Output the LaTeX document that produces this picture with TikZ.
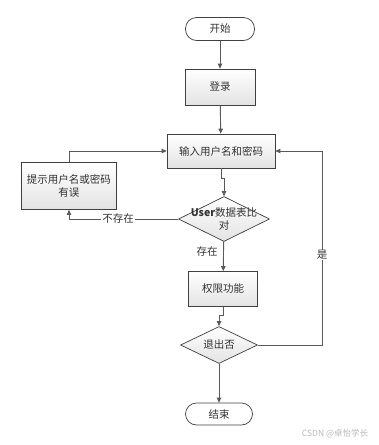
\documentclass[tikz,border=0pt]{standalone}
\usepackage{fontspec}
\usepackage{xcolor}
\usepackage{tikz}
\usetikzlibrary{arrows.meta, positioning, shapes.geometric}
\newfontfamily\cjk{Noto Sans CJK SC}
\definecolor{lineg}{HTML}{5A5A5A}
\definecolor{edgeg}{HTML}{404040}

\begin{document}
\begin{tikzpicture}[
    x=1pt, y=-1pt,
    >={Triangle[length=5pt,width=4.5pt]},
    every node/.style={font=\cjk\fontsize{10.5}{13}\selectfont, text=black!80},
    term/.style={draw=edgeg, line width=0.7pt, rectangle, rounded corners=11pt,
                 fill=white, inner sep=0pt},
    proc/.style={draw=edgeg, line width=0.7pt, rectangle, inner sep=2pt,
                 top color=white, bottom color=gray!22, align=center},
    choice/.style={draw=edgeg, line width=0.7pt, diamond, inner sep=0pt,
                   top color=white, bottom color=gray!22},
    arr/.style={->, draw=lineg, line width=0.9pt},
    lbl/.style={fill=white, inner sep=1pt},
]
    \useasboundingbox (0,0) rectangle (378,445);

    % Main column
    \node[term, minimum width=69pt, minimum height=23pt] (start) at (220,29)  {开始};
    \node[proc, minimum width=70pt, minimum height=36pt] (login) at (220,87)  {登录};
    \node[proc, minimum width=108pt, minimum height=34pt] (input) at (221,151) {输入用户名和密码};
    \node[choice, minimum width=91pt, minimum height=45pt,
          label={[align=center, font=\cjk\fontsize{10.5}{13}\selectfont]center:{\bfseries User}数据表比\\对}]
          (check) at (224,219) {};
    \node[proc, minimum width=69pt, minimum height=35pt] (perm)  at (223,289) {权限功能};
    \node[choice, minimum width=77pt, minimum height=37pt,
          label=center:退出否] (quit) at (219,345) {};
    \node[term, minimum width=67pt, minimum height=22pt] (stop)  at (219,414) {结束};

    % Error box (left)
    \node[proc, minimum width=95pt, minimum height=47pt] (err) at (69,186) {提示用户名或密码\\有误};

    % Connectors
    \draw[arr] (start) -- (login);
    \draw[arr] (login) -- (input);
    \draw[arr] (input.south) -- ++(0,10) -| (check.north);
    \draw[arr] (check.west) -| (err.south);
    \draw[arr] (err.north) |- (input.west);
    \draw[arr] (check) -- (perm);
    \draw[arr] (perm.south) -- ++(0,9) -| (quit.north);
    \draw[arr] (quit) -- (stop);
    \coordinate (back) at (322,345);
    \draw[arr] (quit.east) -- (back) |- (input.east);

    % Labels
    \node[lbl] (no)  at (118,219) {不存在};
    \node      (yes) at (207,252) {存在};
    \node[lbl, inner sep=0.5pt] (again) at (322,255) {是};
    \node[font=\cjk\fontsize{8.5}{10}\selectfont, text=gray!55] (mark) at (335,434) {CSDN @卓怡学长};
\end{tikzpicture}
\end{document}
